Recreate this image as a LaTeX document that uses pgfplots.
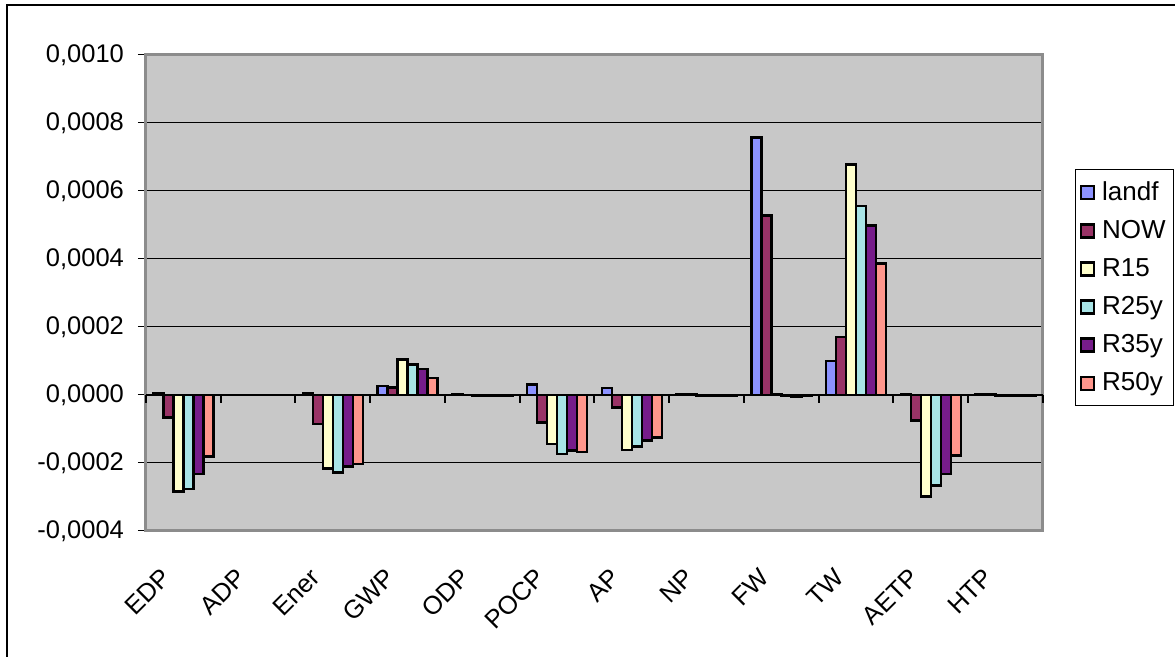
\documentclass[border=0pt]{standalone}
\usepackage{pgfplots}
\pgfplotsset{compat=1.18}
\usepackage{pgfplotstable}
\usepackage{fontspec}
\setmainfont{Liberation Sans}

\definecolor{plotbg}{HTML}{C8C8C8}
\definecolor{plotframe}{HTML}{8C8C8C}
\definecolor{clandf}{HTML}{8C92FF}
\definecolor{cnow}{HTML}{993366}
\definecolor{crfifteen}{HTML}{FFFFCC}
\definecolor{crtwentyfive}{HTML}{A8E4E6}
\definecolor{crthirtyfive}{HTML}{761C8A}
\definecolor{crfifty}{HTML}{FF968C}

% impact category results per scenario
\pgfplotstableread{
idx landf     NOW       R15       R25y      R35y      R50y
0   0.000005  -0.000066 -0.000284 -0.000277 -0.000232 -0.000181
1   0.000000  0.000000  0.000000  0.000000  0.000000  0.000000
2   0.000005  -0.000085 -0.000216 -0.000228 -0.000211 -0.000203
3   0.000027  0.000022  0.000104  0.000090  0.000076  0.000050
4   0.000001  0.000000  -0.000003 -0.000003 -0.000003 -0.000003
5   0.000030  -0.000081 -0.000144 -0.000173 -0.000163 -0.000168
6   0.000020  -0.000037 -0.000162 -0.000151 -0.000134 -0.000125
7   0.000001  0.000001  -0.000002 -0.000002 -0.000002 -0.000002
8   0.000758  0.000528  0.000001  -0.000001 -0.000004 -0.000002
9   0.000100  0.000170  0.000678  0.000556  0.000499  0.000386
10  0.000002  -0.000075 -0.000298 -0.000266 -0.000232 -0.000178
11  0.000002  0.000001  -0.000002 -0.000003 -0.000003 -0.000003
}\impacts

\pgfplotsset{
  plotarea/.style={
    scale only axis, width=448.5pt, height=238pt,
    xmin=-0.5, xmax=11.5, ymin=-0.0004, ymax=0.001,
  },
  barstyle/.style={fill=#1, draw=black, line width=1.3pt},
}

\begin{document}
\begin{tikzpicture}
% page extent and outer chart frame
\path[use as bounding box] (-73pt,-63pt) rectangle (514.5pt,265.5pt);
\draw[line width=0.6pt] (-69.5pt,-64pt) -- (-69.5pt,263pt) -- (515pt,263pt);

\begin{axis}[
  plotarea,
  at={(0pt,0pt)}, anchor=south west,
  axis background/.style={fill=plotbg},
  axis line style={draw=plotframe, line width=1.5pt},
  ybar=0pt, bar width=5pt,
  ytick={-0.0004,-0.0002,0,0.0002,0.0004,0.0006,0.0008,0.001},
  yticklabels={{-0,0004},{-0,0002},{0,0000},{0,0002},{0,0004},{0,0006},{0,0008},{0,0010}},
  scaled y ticks=false,
  /pgf/number format/assume math mode=true,
  ymajorgrids, grid style={black, line width=0.5pt},
  ytick pos=left, tick align=outside, major tick length=4pt,
  ytick style={black, line width=0.5pt},
  xtick={0,...,11},
  xticklabels={EDP,ADP,Ener,GWP,ODP,POCP,AP,NP,FW,TW,AETP,HTP},
  xtick style={draw=none},
  tick label style={font=\fontsize{12.75}{15}\selectfont},
  yticklabel style={xshift=-3.5pt},
  xticklabel style={xshift=-6pt, yshift=-14.5pt, rotate=45, anchor=east},
  legend style={
    at={(rel axis cs:1.036,0.7605)}, anchor=north west,
    draw=black, line width=0.5pt, fill=white,
    font=\fontsize{13}{15}\selectfont,
    row sep=4.5pt, inner xsep=2pt, inner ysep=4pt,
  },
  legend cell align=left,
  legend image code/.code={
    \draw[#1, line width=1.2pt] (0pt,-3.25pt) rectangle (6.5pt,3.25pt);
  },
]
\addplot[barstyle=clandf] table[x=idx, y=landf] {\impacts};
\addplot[barstyle=cnow] table[x=idx, y=NOW] {\impacts};
\addplot[barstyle=crfifteen] table[x=idx, y=R15] {\impacts};
\addplot[barstyle=crtwentyfive] table[x=idx, y=R25y] {\impacts};
\addplot[barstyle=crthirtyfive] table[x=idx, y=R35y] {\impacts};
\addplot[barstyle=crfifty] table[x=idx, y=R50y] {\impacts};
\legend{\hspace{1.5pt}landf,\hspace{1.5pt}NOW,\hspace{1.5pt}R15,
        \hspace{1.5pt}R25y,\hspace{1.5pt}R35y,\hspace{1.5pt}R50y}
\end{axis}

% category axis along the zero line, ticks between the groups
\begin{axis}[
  plotarea,
  at={(0pt,0pt)}, anchor=south west,
  axis x line=middle, axis y line=none,
  x axis line style={-, black, line width=1.2pt},
  xtick={-0.5,0.5,...,11.5}, xticklabels={,,},
  xticklabel style={text opacity=0},
  hide obscured x ticks=false,
  xtick align=outside, major tick length=4pt,
  xtick style={black, line width=1pt},
  ytick=\empty,
]
\addplot[draw=none] coordinates {(0,0)};
\end{axis}
\end{tikzpicture}
\end{document}
